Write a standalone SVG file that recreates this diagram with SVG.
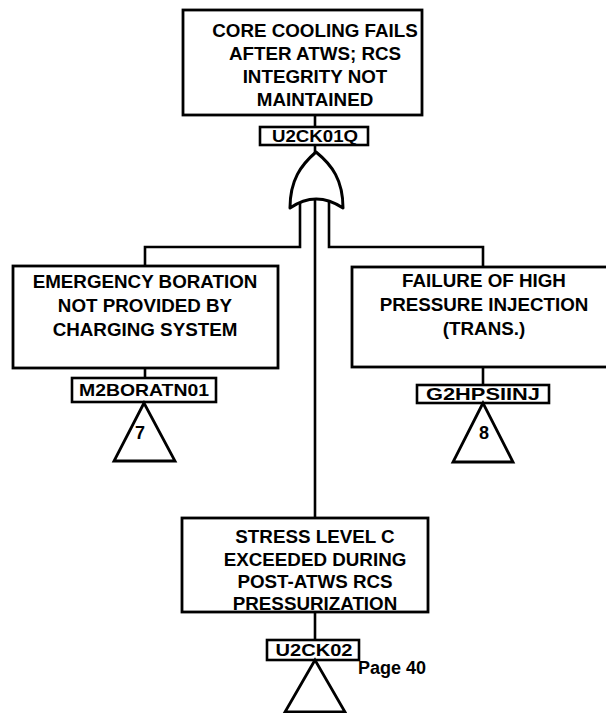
<svg xmlns="http://www.w3.org/2000/svg" width="606" height="713" viewBox="0 0 606 713">
  <style>
    .box { fill: #fff; stroke: #000; stroke-width: 2.8; }
    .idbox { fill: #fff; stroke: #000; stroke-width: 2.6; }
    .wire { fill: none; stroke: #000; stroke-width: 2.6; }
    .gate { fill: #fff; stroke: #000; stroke-width: 3; stroke-linejoin: round; }
    .xfer { fill: #fff; stroke: #000; stroke-width: 2.8; stroke-linejoin: miter; }
    text { font-family: "Liberation Sans", Arial, sans-serif; font-weight: bold; fill: #000; text-anchor: middle; }
    .lbl { font-size: 18.8px; }
    .id { font-size: 17px; }
    .num { font-size: 18px; }
  </style>

  <!-- connectors -->
  <g id="connectors">
    <line class="wire" x1="315" y1="115" x2="315" y2="127"/>
    <line class="wire" x1="315" y1="145" x2="315" y2="153"/>
    <!-- OR gate inputs -->
    <polyline class="wire" points="300,200 300,247 145,247 145,266"/>
    <polyline class="wire" points="329,200 329,247 483,247 483,267"/>
    <line class="wire" x1="315" y1="197" x2="315" y2="518"/>
    <!-- event to identifier links -->
    <line class="wire" x1="145" y1="368" x2="145" y2="378"/>
    <line class="wire" x1="483" y1="367" x2="483" y2="385"/>
    <line class="wire" x1="315" y1="612" x2="315" y2="640"/>
  </g>

  <!-- top event -->
  <g id="U2CK01Q">
    <rect class="box" x="183" y="10" width="239" height="105"/>
    <text class="lbl" x="315" y="37">CORE COOLING FAILS</text>
    <text class="lbl" x="315" y="60">AFTER ATWS; RCS</text>
    <text class="lbl" x="315" y="83">INTEGRITY NOT</text>
    <text class="lbl" x="315" y="106">MAINTAINED</text>
    <rect class="idbox" x="260" y="127" width="108" height="18"/>
    <text class="id" x="315" y="142" textLength="86" lengthAdjust="spacingAndGlyphs">U2CK01Q</text>
  </g>

  <!-- OR gate -->
  <g id="or-gate">
    <path class="gate" d="M316,152 C301,165 290,180 290,208 Q316,190 343,208 C343,180 332,165 316,152 Z"/>
  </g>

  <!-- left input -->
  <g id="M2BORATN01">
    <rect class="box" x="13" y="266" width="265" height="102"/>
    <text class="lbl" x="145" y="288">EMERGENCY BORATION</text>
    <text class="lbl" x="145" y="312">NOT PROVIDED BY</text>
    <text class="lbl" x="145" y="336">CHARGING SYSTEM</text>
    <rect class="idbox" x="72" y="378" width="144" height="24"/>
    <text class="id" x="144" y="396" textLength="130" lengthAdjust="spacingAndGlyphs">M2BORATN01</text>
    <polygon class="xfer" points="144,403 114,461 175,461"/>
    <text class="num" x="140" y="439">7</text>
  </g>

  <!-- right input -->
  <g id="G2HPSIINJ">
    <rect class="box" x="352" y="267" width="266" height="100"/>
    <text class="lbl" x="484" y="287">FAILURE OF HIGH</text>
    <text class="lbl" x="484" y="311">PRESSURE INJECTION</text>
    <text class="lbl" x="484" y="335">(TRANS.)</text>
    <rect class="idbox" x="417" y="385" width="132" height="18"/>
    <text class="id" x="483" y="400" textLength="114" lengthAdjust="spacingAndGlyphs">G2HPSIINJ</text>
    <polygon class="xfer" points="483,403 453,462 513,462"/>
    <text class="num" x="484" y="439">8</text>
  </g>

  <!-- centre input -->
  <g id="U2CK02">
    <rect class="box" x="182" y="518" width="246" height="94"/>
    <text class="lbl" x="315" y="543">STRESS LEVEL C</text>
    <text class="lbl" x="315" y="566">EXCEEDED DURING</text>
    <text class="lbl" x="315" y="588">POST-ATWS RCS</text>
    <text class="lbl" x="315" y="610">PRESSURIZATION</text>
    <rect class="idbox" x="267" y="640" width="92" height="20"/>
    <text class="id" x="314" y="656" textLength="77" lengthAdjust="spacingAndGlyphs">U2CK02</text>
    <polygon class="xfer" points="315,660 285,712 345,712"/>
    <text x="392" y="674" style="font-size:18px">Page 40</text>
  </g>
</svg>
